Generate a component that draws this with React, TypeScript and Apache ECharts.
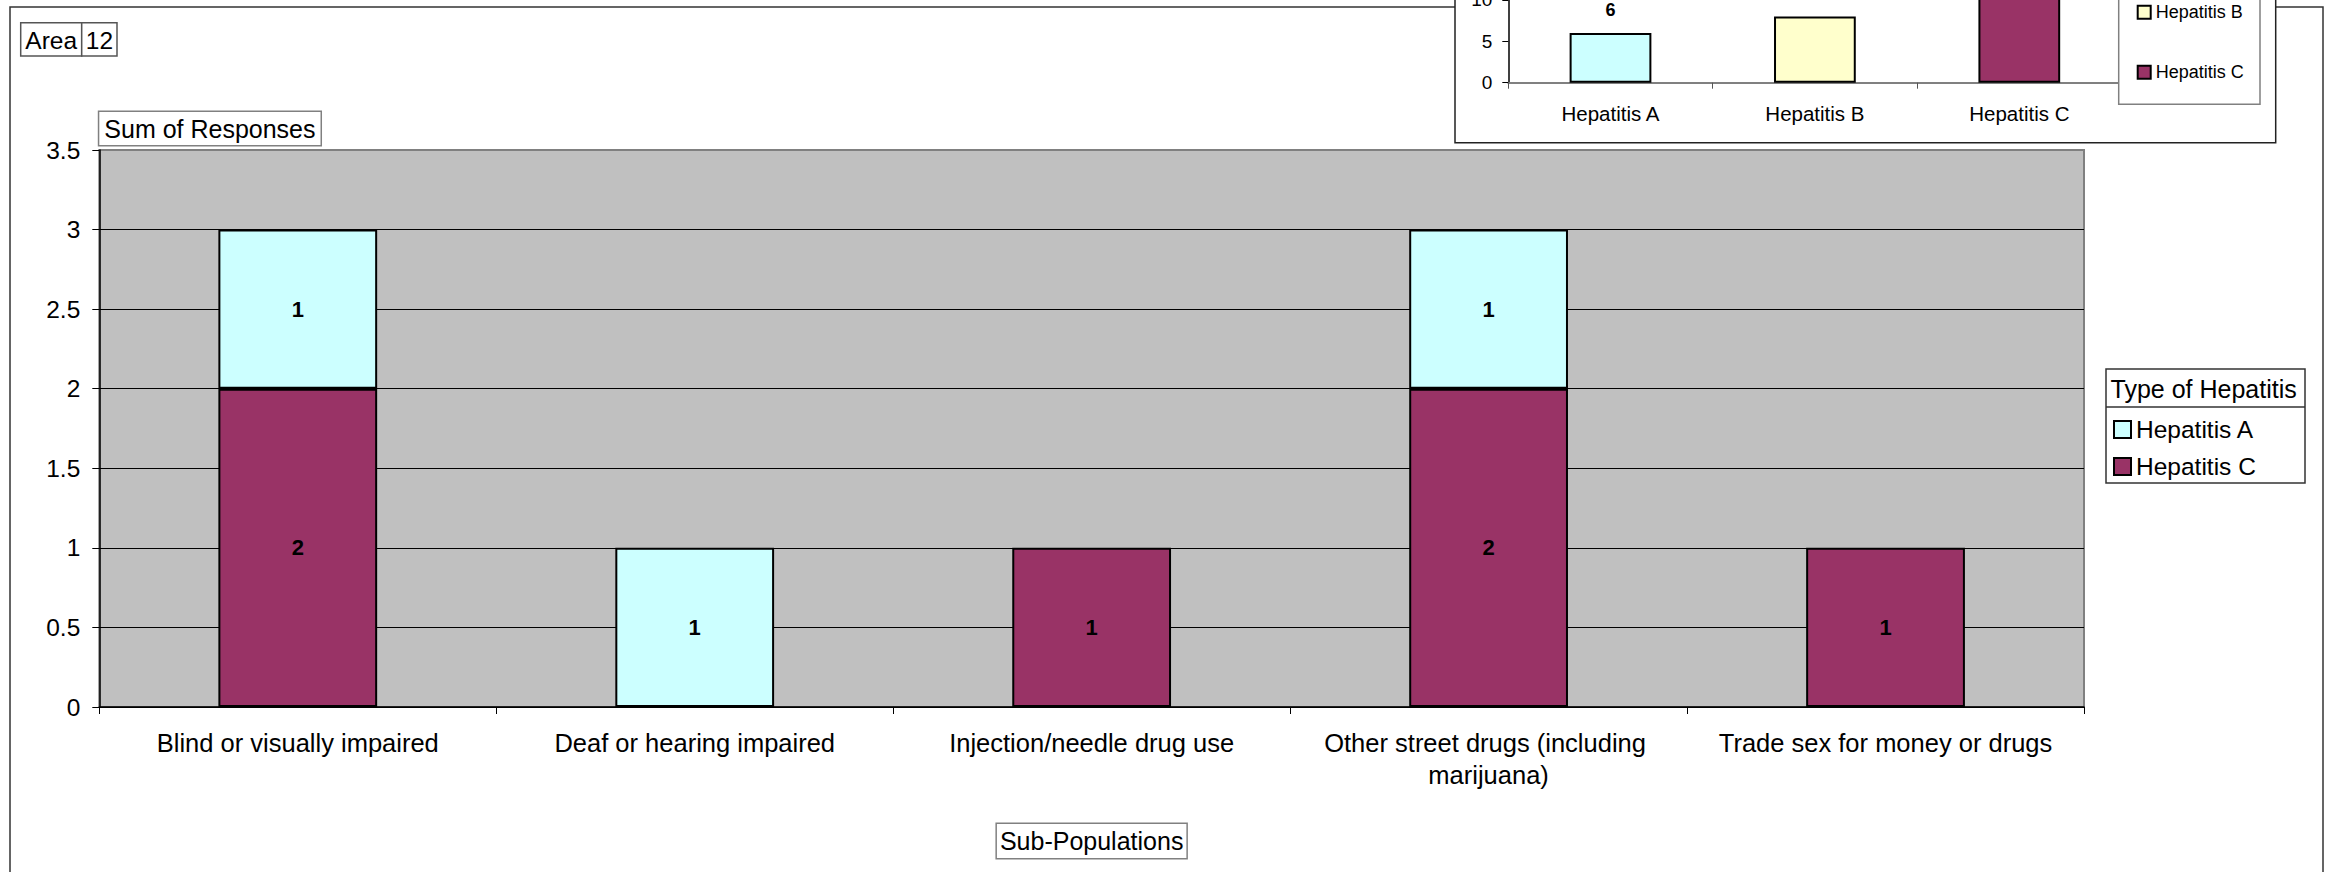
import React, { useEffect, useRef } from 'react';
import * as echarts from 'echarts';

const categories = [
  'Blind or visually impaired',
  'Deaf or hearing impaired',
  'Injection/needle drug use',
  'Other street drugs (including marijuana)',
  'Trade sex for money or drugs',
];
const hepatitisA = [1, 1, null, 1, null];
const hepatitisC = [2, null, 1, 2, 1];
const yMin = 0;
const yMax = 3.5;
const yInterval = 0.5;

const insetCategories = ['Hepatitis A', 'Hepatitis B', 'Hepatitis C'];
const insetTotals = [6, 8, 15];
const insetColors = ['#CCFFFF', '#FFFFCC', '#993366'];
const insetMax = 20;
const insetInterval = 5;

const FONT = '"Liberation Sans", Arial, Helvetica, sans-serif';

export default function App() {
  const ref = useRef<HTMLDivElement>(null);
  useEffect(() => {
    if (!ref.current) return;
    const chart = echarts.init(ref.current, null, { renderer: 'svg' });
    const insetSeries = insetCategories.map((name, i) => ({
      name,
      type: 'bar',
      xAxisIndex: 1,
      yAxisIndex: 1,
      stack: 'inset',
      barCategoryGap: '60%',
      data: insetCategories.map((_, j) => (j === i ? insetTotals[i] : null)),
      itemStyle: { color: insetColors[i], borderColor: '#000', borderWidth: 2 },
      label: {
        show: true,
        position: 'top',
        distance: 14,
        fontSize: 18,
        fontWeight: 'bold',
        color: '#000',
        fontFamily: FONT,
      },
    }));
    const option: any = {
      animation: false,
      textStyle: { fontFamily: FONT },
      grid: [
        {
          left: 99.3,
          top: 150,
          width: 1984.7,
          height: 557,
          show: true,
          backgroundColor: '#C0C0C0',
          borderColor: '#808080',
          borderWidth: 2,
          outerBoundsMode: 'none',
          containLabel: false,
        },
        {
          left: 1508.3,
          top: 82.7 - insetMax * 8.28,
          width: 613.2,
          height: insetMax * 8.28,
          show: false,
          outerBoundsMode: 'none',
          containLabel: false,
        },
      ],
      legend: [
        {
          data: ['Hepatitis A', 'Hepatitis C'],
          orient: 'vertical',
          left: 2113,
          top: 417,
          itemWidth: 17,
          itemHeight: 17,
          itemGap: 12,
          padding: 0,
          icon: 'rect',
          selectedMode: false,
          textStyle: { fontSize: 24.5, lineHeight: 24, color: '#000', fontFamily: FONT },
          z: 6,
        },
        {
          data: insetCategories,
          orient: 'vertical',
          left: 2136.7,
          top: -47.7 - 9,
          itemWidth: 13,
          itemHeight: 13,
          itemGap: 42,
          padding: 0,
          icon: 'rect',
          selectedMode: false,
          textStyle: { fontSize: 18, lineHeight: 18, color: '#000', fontFamily: FONT },
          z: 6,
        },
      ],
      xAxis: [
        {
          type: 'category',
          gridIndex: 0,
          data: categories,
          axisLine: { show: true, lineStyle: { color: '#000', width: 1.5 } },
          axisTick: { show: true, length: 7, lineStyle: { color: '#000' } },
          axisLabel: {
            interval: 0,
            margin: 20,
            fontSize: 25.5,
            lineHeight: 32,
            color: '#000',
            width: 370,
            overflow: 'break',
            fontFamily: FONT,
          },
          name: 'Sub-Populations',
          nameLocation: 'middle',
          nameGap: 117,
          nameTextStyle: {
            fontSize: 25,
            lineHeight: 28,
            color: '#000',
            borderColor: '#808080',
            borderWidth: 1.5,
            backgroundColor: '#fff',
            padding: [3, 3, 3, 3],
            verticalAlign: 'top',
            fontFamily: FONT,
          },
        },
        {
          type: 'category',
          gridIndex: 1,
          data: insetCategories,
          axisLine: { show: true, lineStyle: { color: '#808080', width: 2 } },
          axisTick: { show: true, length: 6, lineStyle: { color: '#555' } },
          axisLabel: { interval: 0, margin: 20, fontSize: 20.5, color: '#000', fontFamily: FONT },
        },
      ],
      yAxis: [
        {
          type: 'value',
          gridIndex: 0,
          min: yMin,
          max: yMax,
          interval: yInterval,
          axisLine: { show: true, lineStyle: { color: '#000', width: 1.5 } },
          axisTick: { show: true, length: 7, lineStyle: { color: '#000' } },
          axisLabel: { margin: 19, fontSize: 24.5, color: '#000', fontFamily: FONT },
          splitLine: { show: true, showMaxLine: false, lineStyle: { color: '#000', width: 1 } },
          name: 'Sum of Responses',
          nameLocation: 'end',
          nameGap: 5,
          nameTextStyle: {
            fontSize: 25,
            lineHeight: 28,
            color: '#000',
            align: 'left',
            verticalAlign: 'bottom',
            borderColor: '#808080',
            borderWidth: 1.5,
            backgroundColor: '#fff',
            padding: [3, 5, 2, 5],
            fontFamily: FONT,
          },
        },
        {
          type: 'value',
          gridIndex: 1,
          min: 0,
          max: insetMax,
          interval: insetInterval,
          axisLine: { show: true, lineStyle: { color: '#000', width: 1.5 } },
          axisTick: { show: true, length: 6, lineStyle: { color: '#000' } },
          axisLabel: { margin: 16, fontSize: 19, color: '#000', fontFamily: FONT },
          splitLine: { show: false },
        },
      ],
      series: [
        {
          name: 'Hepatitis C',
          type: 'bar',
          stack: 'main',
          barCategoryGap: '60%',
          data: hepatitisC,
          itemStyle: { color: '#993366', borderColor: '#000', borderWidth: 2 },
          label: { show: true, position: 'inside', fontSize: 22, fontWeight: 'bold', color: '#000', fontFamily: FONT },
        },
        {
          name: 'Hepatitis A',
          type: 'bar',
          stack: 'main',
          barCategoryGap: '60%',
          data: hepatitisA,
          itemStyle: { color: '#CCFFFF', borderColor: '#000', borderWidth: 2 },
          label: { show: true, position: 'inside', fontSize: 22, fontWeight: 'bold', color: '#000', fontFamily: FONT },
        },
        ...insetSeries,
      ],
      graphic: [
        {
          type: 'rect',
          z: -2,
          shape: { x: 10, y: 7, width: 2313, height: 900 },
          style: { fill: 'none', stroke: '#333', lineWidth: 1.5 },
        },
        {
          type: 'rect',
          z: -1,
          shape: { x: 1455, y: -60, width: 820.7, height: 202.7 },
          style: { fill: '#fff', stroke: '#222', lineWidth: 1.5 },
        },
        {
          type: 'rect',
          z: 3,
          shape: { x: 2118.7, y: -80, width: 141.3, height: 184.3 },
          style: { fill: '#fff', stroke: '#808080', lineWidth: 1.5 },
        },
        {
          type: 'rect',
          z: 1,
          shape: { x: 20.7, y: 22.7, width: 61, height: 33.3 },
          style: { fill: '#fff', stroke: '#555', lineWidth: 1.5 },
        },
        {
          type: 'rect',
          z: 1,
          shape: { x: 81.7, y: 22.7, width: 35.3, height: 33.3 },
          style: { fill: '#fff', stroke: '#555', lineWidth: 1.5 },
        },
        {
          type: 'text',
          z: 2,
          x: 51.2,
          y: 40,
          style: { text: 'Area', fontSize: 24.5, fontFamily: FONT, fill: '#000', align: 'center', verticalAlign: 'middle' },
        },
        {
          type: 'text',
          z: 2,
          x: 99.4,
          y: 40,
          style: { text: '12', fontSize: 24.5, fontFamily: FONT, fill: '#000', align: 'center', verticalAlign: 'middle' },
        },
        {
          type: 'rect',
          z: 3,
          shape: { x: 2106, y: 369, width: 199, height: 114 },
          style: { fill: '#fff', stroke: '#333', lineWidth: 1.5 },
        },
        {
          type: 'line',
          z: 4,
          shape: { x1: 2106, y1: 407, x2: 2305, y2: 407 },
          style: { stroke: '#333', lineWidth: 1.5 },
        },
        {
          type: 'text',
          z: 4,
          x: 2110.5,
          y: 389,
          style: { text: 'Type of Hepatitis', fontSize: 25, fontFamily: FONT, fill: '#000', align: 'left', verticalAlign: 'middle' },
        },
      ],
    };
    chart.setOption(option);
    return () => chart.dispose();
  }, []);
  return (
    <div
      ref={ref}
      style={{ position: 'absolute', left: 0, top: 0, width: 2334, height: 872, background: '#fff' }}
    />
  );
}
